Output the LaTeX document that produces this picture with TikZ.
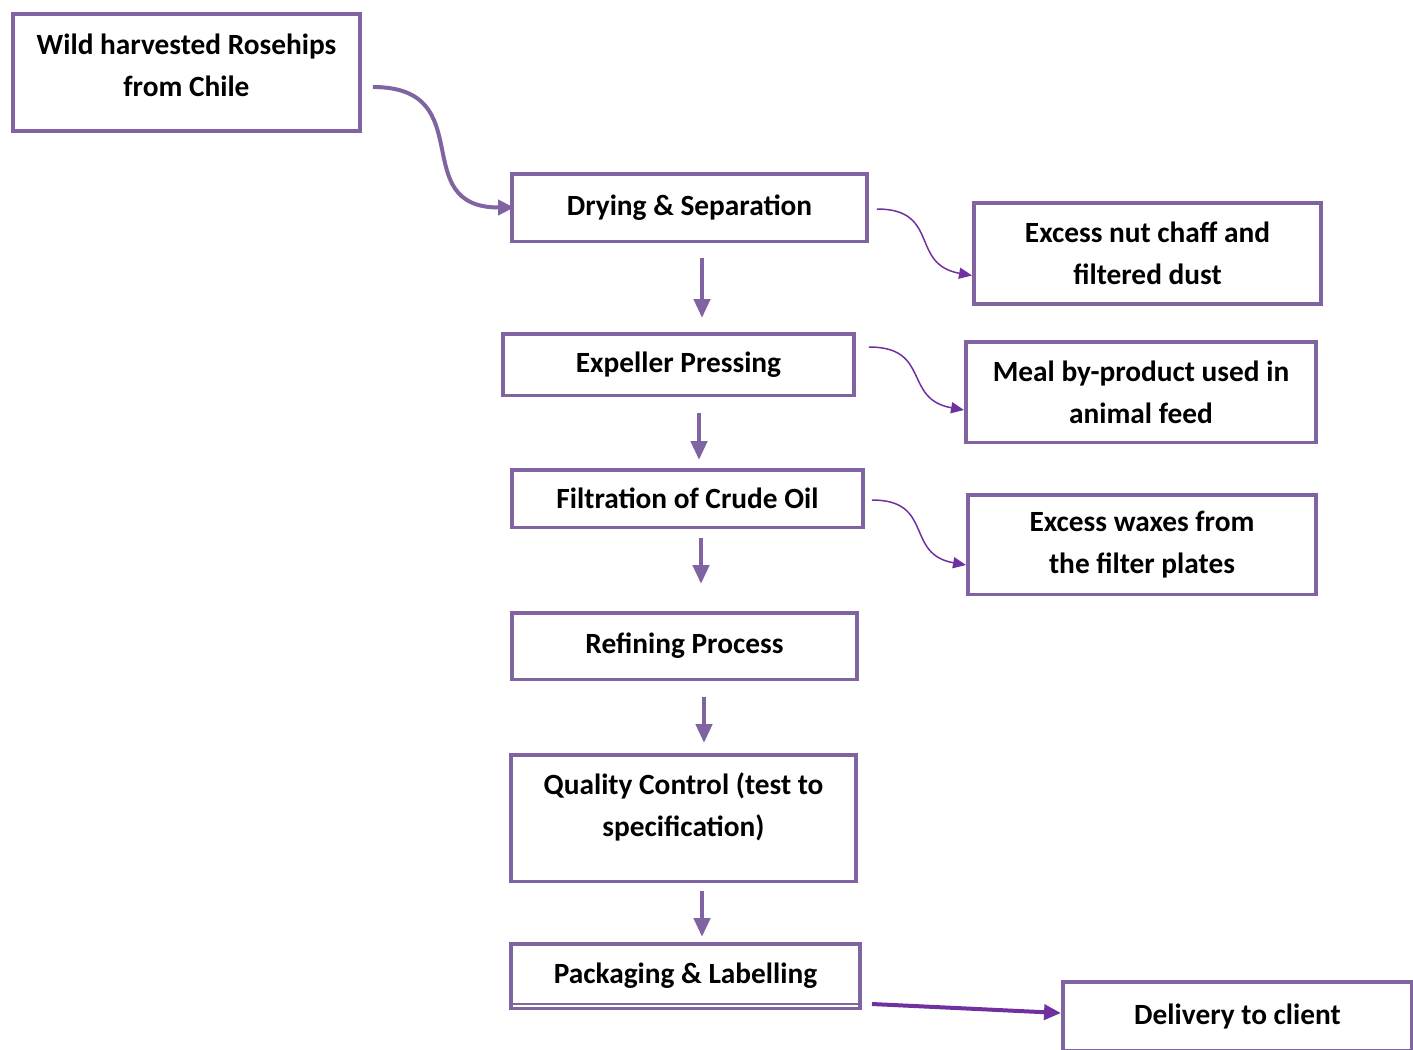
\documentclass[tikz,border=0pt]{standalone}
\usepackage{fontspec}
\setmainfont{Carlito}
\usetikzlibrary{arrows.meta}

\definecolor{boxpurple}{HTML}{8064A2}
\definecolor{darkpurple}{HTML}{7030A0}

\begin{document}
\begin{tikzpicture}[x=0.02cm,y=-0.02cm,
    stage/.style={draw=boxpurple, line width=0.07cm, fill=white, align=center,
        font=\bfseries\fontsize{16.7}{24}\selectfont, inner sep=0pt},
    down/.style={draw=boxpurple, line width=0.09cm,
        -{Triangle[length=0.38cm,width=0.32cm]}},
    side/.style={draw=darkpurple, line width=0.03cm, looseness=1.4,
        -{Triangle[length=0.26cm,width=0.22cm]}}]
    \useasboundingbox (0,0) rectangle (1413,1049);
    \clip (0,0) rectangle (1413,1049);

    \node[stage, line width=0.08cm, text depth=0.28cm, minimum width=6.94cm, minimum height=2.34cm] at (186.5,72.5) (wild) {Wild harvested Rosehips\\from Chile};
    \node[stage, minimum width=7.11cm, minimum height=1.35cm] at (689.5,207.5) (drying) {Drying \& Separation};
    \node[stage, minimum width=7.03cm, minimum height=1.23cm] at (678.5,364.5) (pressing) {Expeller Pressing};
    \node[stage, minimum width=7.03cm, minimum height=1.15cm] at (687.5,498.5) (filtration) {Filtration of Crude Oil};
    \node[stage, minimum width=6.91cm, minimum height=1.33cm] at (684.5,646) (refining) {Refining Process};
    \node[stage, text depth=0.54cm, minimum width=6.91cm, minimum height=2.53cm] at (683.5,818) (quality) {Quality Control (test to\\specification)};
    \node[stage, minimum width=6.99cm, minimum height=1.29cm] at (685.5,976) (packaging) {Packaging \& Labelling};
    \node[stage, minimum width=6.99cm, minimum height=1.37cm] at (1237.5,1016) (delivery) {Delivery to client};
    \node[stage, minimum width=6.95cm, minimum height=2.03cm] at (1147.5,253.5) (chaff) {Excess nut chaff and\\filtered dust};
    \node[stage, minimum width=7.01cm, minimum height=2.01cm] at (1141,392) (meal) {Meal by-product used in\\animal feed};
    \node[stage, minimum width=6.97cm, minimum height=1.99cm] at (1142,544.5) (waxes) {Excess waxes from\\the filter plates};
    % thin second line under packaging
    \draw[boxpurple, line width=0.025cm] ([shift={(2,-6)}]packaging.south west) -- ([shift={(-2,-6)}]packaging.south east);

    % main line
    \draw[down, shorten <=0.3cm, shorten >=0.28cm]
        ([shift={(12.5,0)}]drying.south) -- ([shift={(12.5,0)}]drying.south |- pressing.north);
    \draw[down, shorten <=0.32cm, shorten >=0.16cm]
        ([shift={(20.5,0)}]pressing.south) -- ([shift={(20.5,0)}]pressing.south |- filtration.north);
    \draw[down, shorten <=0.18cm, shorten >=0.54cm]
        ([shift={(13.5,0)}]filtration.south) -- ([shift={(13.5,0)}]filtration.south |- refining.north);
    \draw[down, shorten <=0.32cm, shorten >=0.2cm]
        ([shift={(19.5,0)}]refining.south) -- ([shift={(19.5,0)}]refining.south |- quality.north);
    \draw[down, shorten <=0.16cm, shorten >=0.1cm]
        ([shift={(18.5,0)}]quality.south) -- ([shift={(18.5,0)}]quality.south |- packaging.north);

    % by-products and in/out
    \draw[boxpurple, line width=0.08cm, looseness=1.5, -{Triangle[length=0.32cm,width=0.3cm]}]
        ([shift={(11,14.5)}]wild.east) to[out=0, in=180] ([shift={(4,0)}]drying.west);
    \draw[side] ([shift={(8,1.5)}]drying.east) to[out=0, in=170] ([shift={(0,22)}]chaff.west);
    \draw[side] ([shift={(13,-17.5)}]pressing.east) to[out=0, in=170] ([shift={(0,18)}]meal.west);
    \draw[side] ([shift={(7,1.5)}]filtration.east) to[out=0, in=170] ([shift={(0,20.5)}]waxes.west);
    \draw[darkpurple, line width=0.08cm, -{Triangle[length=0.34cm,width=0.3cm]}]
        ([shift={(10,28)}]packaging.east) -- ([shift={(0,-3)}]delivery.west);
\end{tikzpicture}
\end{document}
